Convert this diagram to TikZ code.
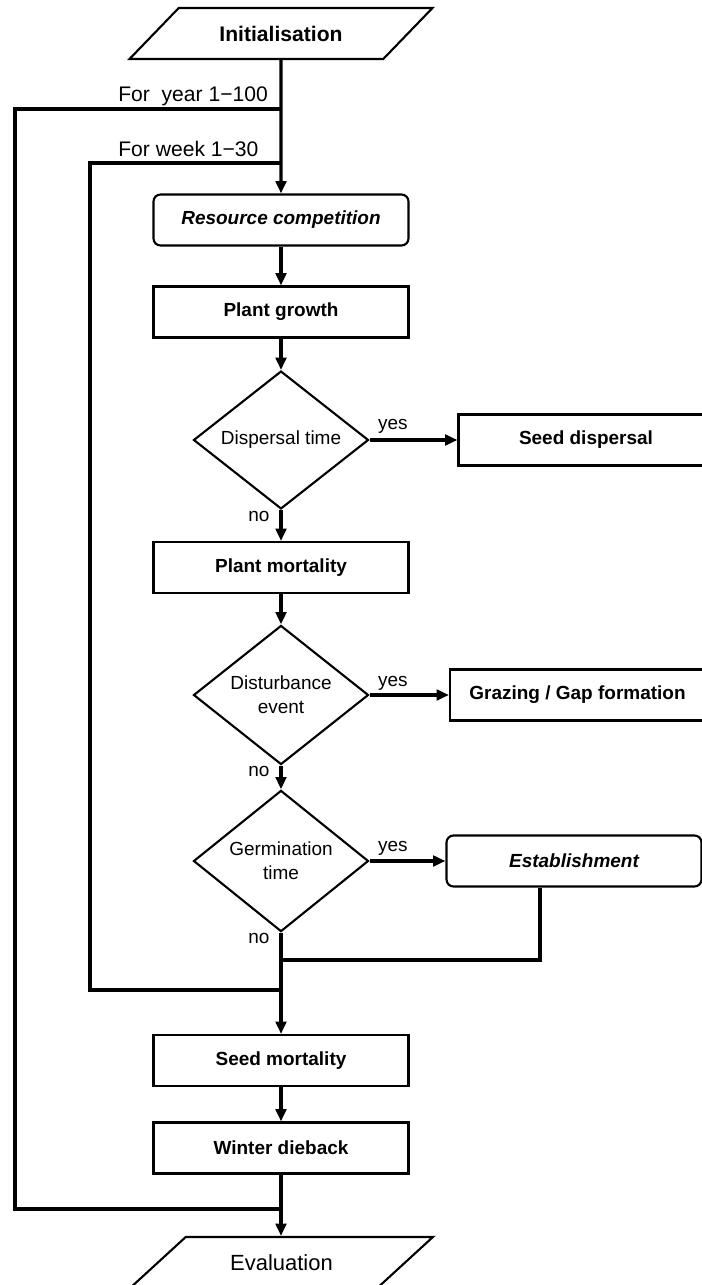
\documentclass[tikz,border=0pt]{standalone}
\usepackage{fontspec}
\setmainfont{Liberation Sans}
\usetikzlibrary{arrows.meta,shapes.geometric}

\begin{document}
\begin{tikzpicture}[
    box/.style={rectangle,draw,line width=1.2pt,minimum width=5.1cm,minimum height=1.02cm,font=\fontsize{10.8}{13.6}\selectfont\bfseries},
    rbox/.style={box,rounded corners=4pt,font=\fontsize{10.8}{13.6}\selectfont\bfseries\itshape},
    query/.style={diamond,draw,line width=1.2pt,minimum width=3.5cm,minimum height=2.5cm,inner sep=0pt,align=center,font=\fontsize{10.8}{13.6}\selectfont},
    io/.style={trapezium,trapezium left angle=40,trapezium right angle=140,trapezium stretches=true,draw,line width=1.2pt,minimum width=6.06cm,minimum height=1.02cm,font=\fontsize{12.5}{15}\selectfont},
    flow/.style={line width=1.8pt,-{Triangle[length=7pt,width=6pt]}},
    backline/.style={line width=1.8pt},
    lbl/.style={font=\fontsize{10.8}{13}\selectfont,inner sep=0pt,anchor=base west},
    looplbl/.style={font=\fontsize{12}{14}\selectfont,inner sep=0pt,anchor=base west}]

    \useasboundingbox (0,0) rectangle (14.02,-25.7);

    \node[io,font=\fontsize{12}{14}\selectfont\bfseries] (init) at (5.62,-0.67) {Initialisation};
    \node[rbox] (rescomp) at (5.62,-4.4) {Resource competition};
    \node[box] (growth) at (5.62,-6.24) {Plant growth};
    \node[query] (disp) at (5.62,-8.8) {Dispersal time};
    \node[box] (seeddisp) at (11.72,-8.8) {Seed dispersal};
    \node[box] (mort) at (5.62,-11.35) {Plant mortality};
    \node[query] (dist) at (5.62,-13.9) {Disturbance\\event};
    \node[box] (graze) at (11.55,-13.9) {Grazing / Gap formation};
    \node[query] (germ) at (5.62,-17.22) {Germination\\time};
    \node[rbox] (estab) at (11.48,-17.22) {Establishment};
    \node[box] (seedmort) at (5.62,-21.21) {Seed mortality};
    \node[box] (winter) at (5.62,-22.96) {Winter dieback};
    \node[io] (eval) at (5.63,-25.25) {Evaluation};

    % Loop labels
    \node[looplbl] (yearlbl) at (2.36,-2.04) {For\ \ year 1−100};
    \node[looplbl] (weeklbl) at (2.36,-3.14) {For week 1−30};

    % Main flow
    \draw[flow] (init.south) -- (rescomp.north);
    \draw[flow] (rescomp) -- (growth);
    \draw[flow] (growth) -- (disp.north);
    \draw[flow] (disp.south) -- node[lbl,pos=0,anchor=base east,xshift=-0.2cm,yshift=-0.22cm]{no} (mort.north);
    \draw[flow] (mort) -- (dist.north);
    \draw[flow] (dist.south) -- node[lbl,pos=0,anchor=base east,xshift=-0.2cm,yshift=-0.22cm]{no} (germ.north);
    \draw[flow] (germ.south) -- node[lbl,pos=0,anchor=base east,xshift=-0.2cm,yshift=-0.22cm]{no} (seedmort.north);
    \draw[flow] (seedmort) -- (winter);
    \draw[flow] (winter.south) -- (eval.north -| winter.south);

    % Yes branches
    \draw[flow] (disp.east) -- node[lbl,pos=0,xshift=0.14cm,yshift=0.22cm]{yes} (seeddisp.west);
    \draw[flow] (dist.east) -- node[lbl,pos=0,xshift=0.14cm,yshift=0.18cm]{yes} (graze.west);
    \draw[flow] (germ.east) -- node[lbl,pos=0,xshift=0.14cm,yshift=0.2cm]{yes} (estab.west);

    % Back to main line
    \coordinate (estabjoin) at (10.8,-19.2);
    \draw[backline] (estab.south -| estabjoin) -- (estabjoin) -- (estabjoin -| germ.south);

    % Week loop
    \coordinate (weektop) at (5.62,-3.26);
    \coordinate (weekend) at (5.62,-19.8);
    \coordinate (weekleft) at (1.8,-19.8);
    \draw[backline] (weekend) -- (weekleft) |- (weektop);

    % Year loop
    \coordinate (yeartop) at (5.62,-2.18);
    \coordinate (yearend) at (5.62,-24.18);
    \coordinate (yearleft) at (0.3,-24.18);
    \draw[backline] (yearend) -- (yearleft) |- (yeartop);
\end{tikzpicture}
\end{document}
